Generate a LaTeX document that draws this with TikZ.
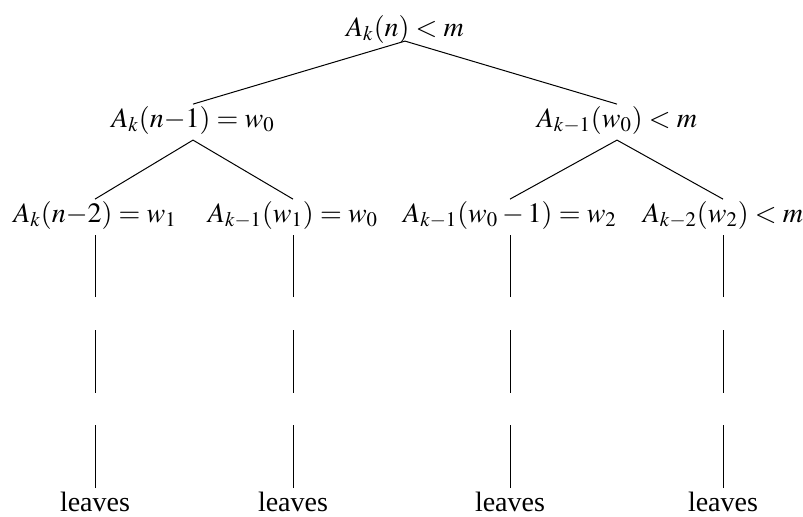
\documentclass[tikz,border=0pt]{standalone}
\usepackage{mathptmx}
\usepackage{fontspec}
\setmainfont{Liberation Serif}
\usetikzlibrary{positioning}

\begin{document}
\begin{tikzpicture}[x=0.5pt, y=0.5pt, line width=0.5pt, every node/.style={font=\fontsize{14}{16}\selectfont, anchor=base, text height=0.72em, text depth=0.23em, inner xsep=0pt, inner ysep=4pt}, rootnode/.style={inner ysep=0pt}, dashline/.style={dash pattern=on 31.5pt off 16.25pt}]
\useasboundingbox (0,0) rectangle (803,516);
% tree
\node[rootnode] (root) at (405,480) {$A_k(n) < m$};
\node (l) at (193,389) {$A_k(n{-}1) = w_0$};
\node (r) at (617,389) {$A_{k-1}(w_0) < m$};
\node (ll) at (95,294) {$A_k(n{-}2) = w_1$};
\node (lr) at (293,294) {$A_{k-1}(w_1) = w_0$};
\node (rl) at (510,294) {$A_{k-1}(w_0-1) = w_2$};
\node (rr) at (723,294) {$A_{k-2}(w_2) < m$};
% leaves
\node (leafa) at (95,5) {leaves};
\node (leafb) at (293,5) {leaves};
\node (leafc) at (510,5) {leaves};
\node (leafd) at (723,5) {leaves};
\draw (l.north) -- (root.south) -- (r.north);
\draw (ll.north) -- (l.south) -- (lr.north);
\draw (rl.north) -- (r.south) -- (rr.north);
\draw[dashline] (leafa.north) -- (ll.south); \draw[dashline] (leafb.north) -- (lr.south);
\draw[dashline] (leafc.north) -- (rl.south); \draw[dashline] (leafd.north) -- (rr.south);
\end{tikzpicture}
\end{document}
